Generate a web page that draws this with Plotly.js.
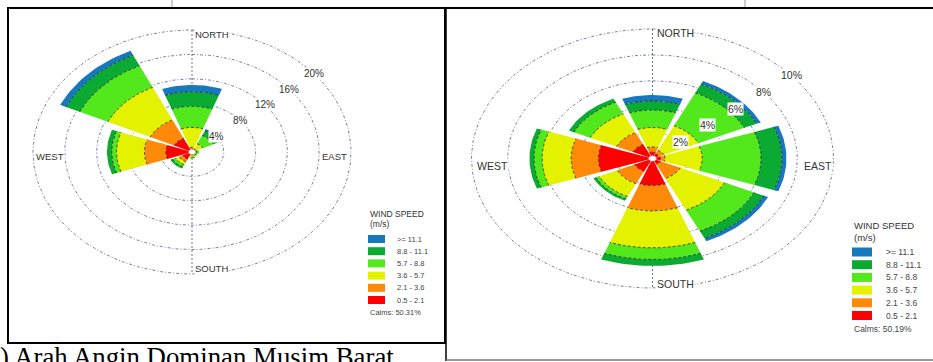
<!DOCTYPE html>
<html><head><meta charset="utf-8">
<script src="https://cdn.plot.ly/plotly-3.0.1.min.js"></script>
<style>html,body{margin:0;padding:0;background:#fff}#chart{width:933px;height:362px}</style>
</head><body><div id="chart"></div>
<script>
// ---------- DATA ----------
const directions = ['N','NE','E','SE','S','SW','W','NW'];
const directionBearings = [0,45,90,135,180,225,270,315];
const speedBins = ['0.5 - 2.1','2.1 - 3.6','3.6 - 5.7','5.7 - 8.8','8.8 - 11.1','>= 11.1'];
const compassLabels = ['NORTH','EAST','SOUTH','WEST'];

// Left rose (Musim Barat) – frequency % per speed class, per direction
const barat_05_21  = [0.30, 0.30, 0.20, 0.20, 0.30, 1.30, 3.30, 2.50];
const barat_21_36  = [0.50, 0.30, 0.15, 0.15, 0.20, 0.50, 2.70, 3.30];
const barat_36_57  = [3.25, 0.90, 0.25, 0.25, 0.40, 0.50, 3.50, 5.90];
const barat_57_88  = [3.45, 1.50, 0.30, 0.20, 0.20, 0.40, 0.60, 3.90];
const barat_88_111 = [2.40, 0.85, 0.00, 0.00, 0.00, 0.30, 0.60, 1.90];
const barat_111    = [1.10, 0.30, 0.00, 0.00, 0.00, 0.00, 0.00, 0.80];
const baratRings = [4, 8, 12, 16, 20];
const baratCalms = 'Calms: 50.31%';

// Right rose – frequency % per speed class, per direction
const timur_05_21  = [0.50, 0.40, 0.45, 0.50, 2.10, 1.10, 3.00, 1.20];
const timur_21_36  = [0.40, 0.30, 0.25, 1.20, 1.95, 1.05, 1.50, 1.00];
const timur_36_57  = [1.50, 2.10, 2.05, 2.70, 2.85, 1.10, 1.60, 1.60];
const timur_57_88  = [1.35, 2.80, 3.25, 1.80, 0.90, 0.20, 0.45, 1.00];
const timur_88_111 = [0.70, 0.75, 1.15, 0.60, 0.50, 0.15, 0.25, 0.30];
const timur_111    = [0.45, 0.25, 0.25, 0.25, 0.00, 0.00, 0.00, 0.00];
const timurRings = [2, 4, 6, 8, 10];
const timurCalms = 'Calms: 50.19%';

const captionText = ') Arah Angin Dominan Musim Barat';

// ---------- STYLE ----------
const binColors = ['#ff0000','#ff8a0a','#e4f200','#52e81c','#0bab33','#1878bd'];
const W = 933, H = 362;
const FONT = 'Arial, "Liberation Sans", sans-serif';
const HALF = 20; // half width of each wedge, degrees

const roses = [
  { bands:[barat_05_21,barat_21_36,barat_36_57,barat_57_88,barat_88_111,barat_111],
    rings:baratRings, calms:baratCalms,
    cx:192, cy:152, sx:7.95, sy:6.1, px0:0, px1:445,
    dot:0.45, compassSize:9.5, ringFont:10, labelBearing:50,
    shifts:{N:[2,-4],S:[2,6],W:[2,-4],E:[-3,-4]},
    leg:{x:368, t1:214, t2:224, sw:17, sh:8, top:235, step:12.2, lx:395, calmsY:312, fs:7.5, tfs:8.5} },
  { bands:[timur_05_21,timur_21_36,timur_36_57,timur_57_88,timur_88_111,timur_111],
    rings:timurRings, calms:timurCalms,
    cx:652.5, cy:158.5, sx:18.1, sy:12.95, px0:446, px1:933,
    dot:0.22, compassSize:10.5, ringFont:10.5, labelBearing:50,
    shifts:{N:[3,-4],S:[3,4],W:[4,-7],E:[-1,-7]},
    leg:{x:852, t1:226, t2:237, sw:20, sh:9, top:247.5, step:12.7, lx:884, calmsY:329, fs:8.5, tfs:9.5} }
];

const rad = d => d*Math.PI/180;
const px = x => x/W;
const py = y => 1 - y/H;

const traces = [];
const shapes = [];
const annotations = [];
const layout = {
  width:W, height:H, margin:{l:0,r:0,t:0,b:0},
  paper_bgcolor:'#fff', plot_bgcolor:'rgba(0,0,0,0)', showlegend:false,
  font:{family:FONT, color:'#333'}
};

roses.forEach((R, ri) => {
  const xa = ri === 0 ? 'x' : 'x2', ya = ri === 0 ? 'y' : 'y2';
  const xk = ri === 0 ? 'xaxis' : 'xaxis2', yk = ri === 0 ? 'yaxis' : 'yaxis2';
  layout[xk] = {domain:[R.px0/W, R.px1/W], range:[(R.px0-R.cx)/R.sx, (R.px1-R.cx)/R.sx],
    visible:false, fixedrange:true, showgrid:false, zeroline:false};
  layout[yk] = {domain:[0,1], range:[-(H-R.cy)/R.sy, R.cy/R.sy], anchor:xa,
    visible:false, fixedrange:true, showgrid:false, zeroline:false};
  if (ri === 1) layout[xk].anchor = ya;

  const rmax = Math.max(...R.rings);
  // rings
  const rx = [], ry = [];
  R.rings.forEach(r => {
    for (let t = 0; t <= 360; t += 2) { rx.push(r*Math.sin(rad(t))); ry.push(r*Math.cos(rad(t))); }
    rx.push(null); ry.push(null);
  });
  traces.push({type:'scatter', mode:'lines', x:rx, y:ry, xaxis:xa, yaxis:ya, hoverinfo:'skip',
    line:{color:'#7c81a6', width:1, dash:'3px,2px,1px,2px'}});
  // N-S axis line
  traces.push({type:'scatter', mode:'lines', x:[0,0], y:[rmax,-rmax], xaxis:xa, yaxis:ya, hoverinfo:'skip',
    line:{color:'#6a6f99', width:1, dash:'2px,2px'}});

  // wedges
  const cum = directions.map(() => 0);
  const arcX = [], arcY = [];
  R.bands.forEach((band, bi) => {
    const xs = [], ys = [];
    band.forEach((v, di) => {
      if (v <= 0) return;
      const r0 = cum[di], r1 = r0 + v, c = directionBearings[di];
      const n = 24;
      for (let k = 0; k <= n; k++) { const t = rad(c - HALF + 2*HALF*k/n); xs.push(r1*Math.sin(t)); ys.push(r1*Math.cos(t)); }
      if (r0 > 0) {
        for (let k = n; k >= 0; k--) { const t = rad(c - HALF + 2*HALF*k/n); xs.push(r0*Math.sin(t)); ys.push(r0*Math.cos(t)); }
        for (let k = 0; k <= n; k++) { const t = rad(c - HALF + 2*HALF*k/n); arcX.push(r0*Math.sin(t)); arcY.push(r0*Math.cos(t)); }
        arcX.push(null); arcY.push(null);
      } else { xs.push(0); ys.push(0); }
      xs.push(null); ys.push(null);
      cum[di] = r1;
    });
    traces.push({type:'scatter', mode:'lines', x:xs, y:ys, xaxis:xa, yaxis:ya, fill:'toself',
      fillcolor:binColors[bi], line:{width:0, color:binColors[bi]}, hoverinfo:'skip', name:speedBins[bi]});
  });
  traces.push({type:'scatter', mode:'lines', x:arcX, y:arcY, xaxis:xa, yaxis:ya, hoverinfo:'skip',
    line:{color:'rgba(30,30,30,0.8)', width:0.9, dash:'3px,2px'}});
  // center dot
  const dx = [], dy = [];
  for (let t = 0; t <= 360; t += 10) { dx.push(R.dot*Math.sin(rad(t))); dy.push(R.dot*Math.cos(rad(t))); }
  traces.push({type:'scatter', mode:'lines', x:dx, y:dy, xaxis:xa, yaxis:ya, fill:'toself',
    fillcolor:'#fff', line:{color:'#888', width:0.6}, hoverinfo:'skip'});

  // ring labels
  R.rings.forEach(r => {
    const b = rad(R.labelBearing);
    annotations.push({xref:xa, yref:ya, x:r*Math.sin(b), y:r*Math.cos(b), text:r+'%', showarrow:false,
      font:{size:R.ringFont, color:'#333', family:FONT}, bgcolor:'#fff', borderpad:0});
  });
  // compass labels
  const comp = [
    {t:compassLabels[0], x:0, y:rmax, xa:'left', s:R.shifts.N},
    {t:compassLabels[1], x:rmax, y:0, xa:'right', s:R.shifts.E},
    {t:compassLabels[2], x:0, y:-rmax, xa:'left', s:R.shifts.S},
    {t:compassLabels[3], x:-rmax, y:0, xa:'left', s:R.shifts.W}
  ];
  comp.forEach(c => annotations.push({xref:xa, yref:ya, x:c.x, y:c.y, text:c.t, showarrow:false,
    xanchor:c.xa, yanchor:'middle', xshift:c.s[0], yshift:c.s[1], bgcolor:'#fff', borderpad:0,
    font:{size:R.compassSize, color:'#333', family:FONT}}));

  // legend
  const L = R.leg;
  annotations.push({xref:'paper', yref:'paper', x:px(L.x), y:py(L.t1), xanchor:'left', yanchor:'middle',
    text:'WIND SPEED', showarrow:false, font:{size:L.tfs, color:'#333', family:FONT}});
  annotations.push({xref:'paper', yref:'paper', x:px(L.x), y:py(L.t2), xanchor:'left', yanchor:'middle',
    text:'(m/s)', showarrow:false, font:{size:L.tfs, color:'#333', family:FONT}});
  for (let k = 0; k < speedBins.length; k++) {
    const bi = speedBins.length - 1 - k;
    const top = L.top + k*L.step;
    shapes.push({type:'rect', xref:'paper', yref:'paper', x0:px(L.x), x1:px(L.x+L.sw), y0:py(top+L.sh), y1:py(top),
      fillcolor:binColors[bi], line:{width:0}});
    annotations.push({xref:'paper', yref:'paper', x:px(L.lx), y:py(top+L.sh/2), xanchor:'left', yanchor:'middle',
      text:speedBins[bi], showarrow:false, font:{size:L.fs, color:'#444', family:FONT}});
  }
  annotations.push({xref:'paper', yref:'paper', x:px(L.x), y:py(L.calmsY), xanchor:'left', yanchor:'middle',
    text:R.calms, showarrow:false, font:{size:L.fs, color:'#444', family:FONT}});
});

// frames
shapes.push({type:'rect', xref:'paper', yref:'paper', x0:px(8), x1:px(445), y0:py(343), y1:py(8),
  line:{color:'#000', width:2}});
shapes.push({type:'line', xref:'paper', yref:'paper', x0:px(446), x1:px(933), y0:py(8), y1:py(8), line:{color:'#000', width:2}});
shapes.push({type:'line', xref:'paper', yref:'paper', x0:px(446), x1:px(446), y0:py(8), y1:py(361), line:{color:'#000', width:1.5}});
shapes.push({type:'line', xref:'paper', yref:'paper', x0:px(446), x1:px(933), y0:py(360), y1:py(360), line:{color:'#777', width:1.5}});
shapes.push({type:'line', xref:'paper', yref:'paper', x0:px(172), x1:px(172), y0:py(0), y1:py(7), line:{color:'#999', width:1}});
shapes.push({type:'line', xref:'paper', yref:'paper', x0:px(745), x1:px(745), y0:py(0), y1:py(7), line:{color:'#999', width:1}});

// caption (cut at the bottom edge, as in the source image)
annotations.push({xref:'paper', yref:'paper', x:px(-1), y:py(341), xanchor:'left', yanchor:'top',
  text:captionText, showarrow:false, borderpad:0,
  font:{size:26.8, color:'#000', family:'"Liberation Serif", "Times New Roman", serif'}});

layout.shapes = shapes;
layout.annotations = annotations;
Plotly.newPlot('chart', traces, layout, {displayModeBar:false, staticPlot:true});
</script></body></html>
